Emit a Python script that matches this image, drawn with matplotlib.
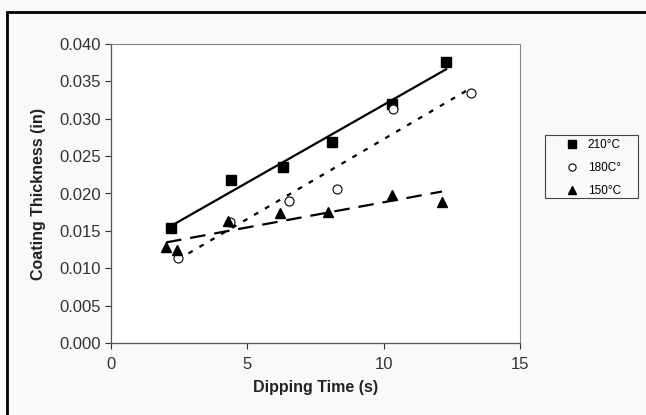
import numpy as np
from matplotlib import pyplot as plt
from matplotlib.patches import Rectangle

plt.rcParams['font.family'] = ['Liberation Sans', 'DejaVu Sans']

# 210°C
x_210 = [2.2, 4.41, 6.32, 8.11, 10.32, 12.29]
y_210 = [0.0154, 0.0218, 0.0235, 0.0269, 0.0320, 0.0376]
# 180°C
x_180 = [2.44, 4.38, 6.52, 8.28, 10.36, 13.21]
y_180 = [0.0114, 0.0162, 0.0190, 0.0206, 0.0313, 0.0335]
# 150°C
x_150 = [2.02, 2.41, 4.3, 6.21, 7.95, 10.32, 12.14]
y_150 = [0.0128, 0.0125, 0.0163, 0.0174, 0.0175, 0.0198, 0.0189]

labels = ['210°C', '180C°', '150°C']

fig = plt.figure(figsize=(6.46, 4.15), dpi=100, facecolor='#f9f9f9')
ax = fig.add_axes([111 / 646, 1 - 343 / 415, 409 / 646, 299 / 415])
ax.set_facecolor('white')

# 外框
fig.patches.append(Rectangle((7 / 646, -0.2), 1.2, 1.2 - 12 / 415,
                             transform=fig.transFigure, fill=False,
                             lw=2, ec='black'))

# 趋势线
def trend(x, y, style):
    k, b = np.polyfit(x, y, 1)
    xs = np.array([min(x), max(x)])
    ax.plot(xs, k * xs + b, color='black', lw=1.6, linestyle=style)

trend(x_210, y_210, '-')
trend(x_180, y_180, (0, (2.2, 3.5)))
trend(x_150, y_150, (0, (7, 4)))

ax.plot(x_210, y_210, 's', color='black', ms=6.5, label=labels[0])
ax.plot(x_180, y_180, 'o', mfc='white', mec='black', mew=0.8, ms=6.5, label=labels[1])
ax.plot(x_150, y_150, '^', color='black', ms=6.5, label=labels[2])

ax.set_xlim(0, 15)
ax.set_ylim(0, 0.04)
ax.set_xticks([0, 5, 10, 15])
ax.set_yticks(np.arange(0, 0.0401, 0.005))
ax.set_yticklabels(['%.3f' % v for v in np.arange(0, 0.0401, 0.005)])
ax.tick_params(labelsize=12, colors='#333333', length=4, width=0.8)
ax.tick_params(axis='x', pad=6)

for s in ['left', 'bottom']:
    ax.spines[s].set_color('#555555')
    ax.spines[s].set_linewidth(0.9)
for s in ['top', 'right']:
    ax.spines[s].set_color('#888888')
    ax.spines[s].set_linewidth(0.8)

ax.set_xlabel('Dipping Time (s)', fontsize=11.5, fontweight='bold', color='#222222', labelpad=6)
ax.set_ylabel('Coating Thickness (in)', fontsize=11.5, fontweight='bold', color='#222222', labelpad=9)

# 图例: 无边框, 边框另画
fig.legend(loc='upper left', bbox_to_anchor=(566 / 646, 1 - 139 / 415),
           fontsize=8.5, frameon=False, handlelength=1.0, markerscale=0.8,
           borderpad=0, labelspacing=0.95, handletextpad=0.85, borderaxespad=0)
fig.patches.append(Rectangle((545 / 646, 1 - 198 / 415), 93 / 646, 63 / 415,
                             transform=fig.transFigure, fill=False,
                             lw=0.8, ec='#444444'))

plt.savefig('out.png', dpi=100, facecolor=fig.get_facecolor())
